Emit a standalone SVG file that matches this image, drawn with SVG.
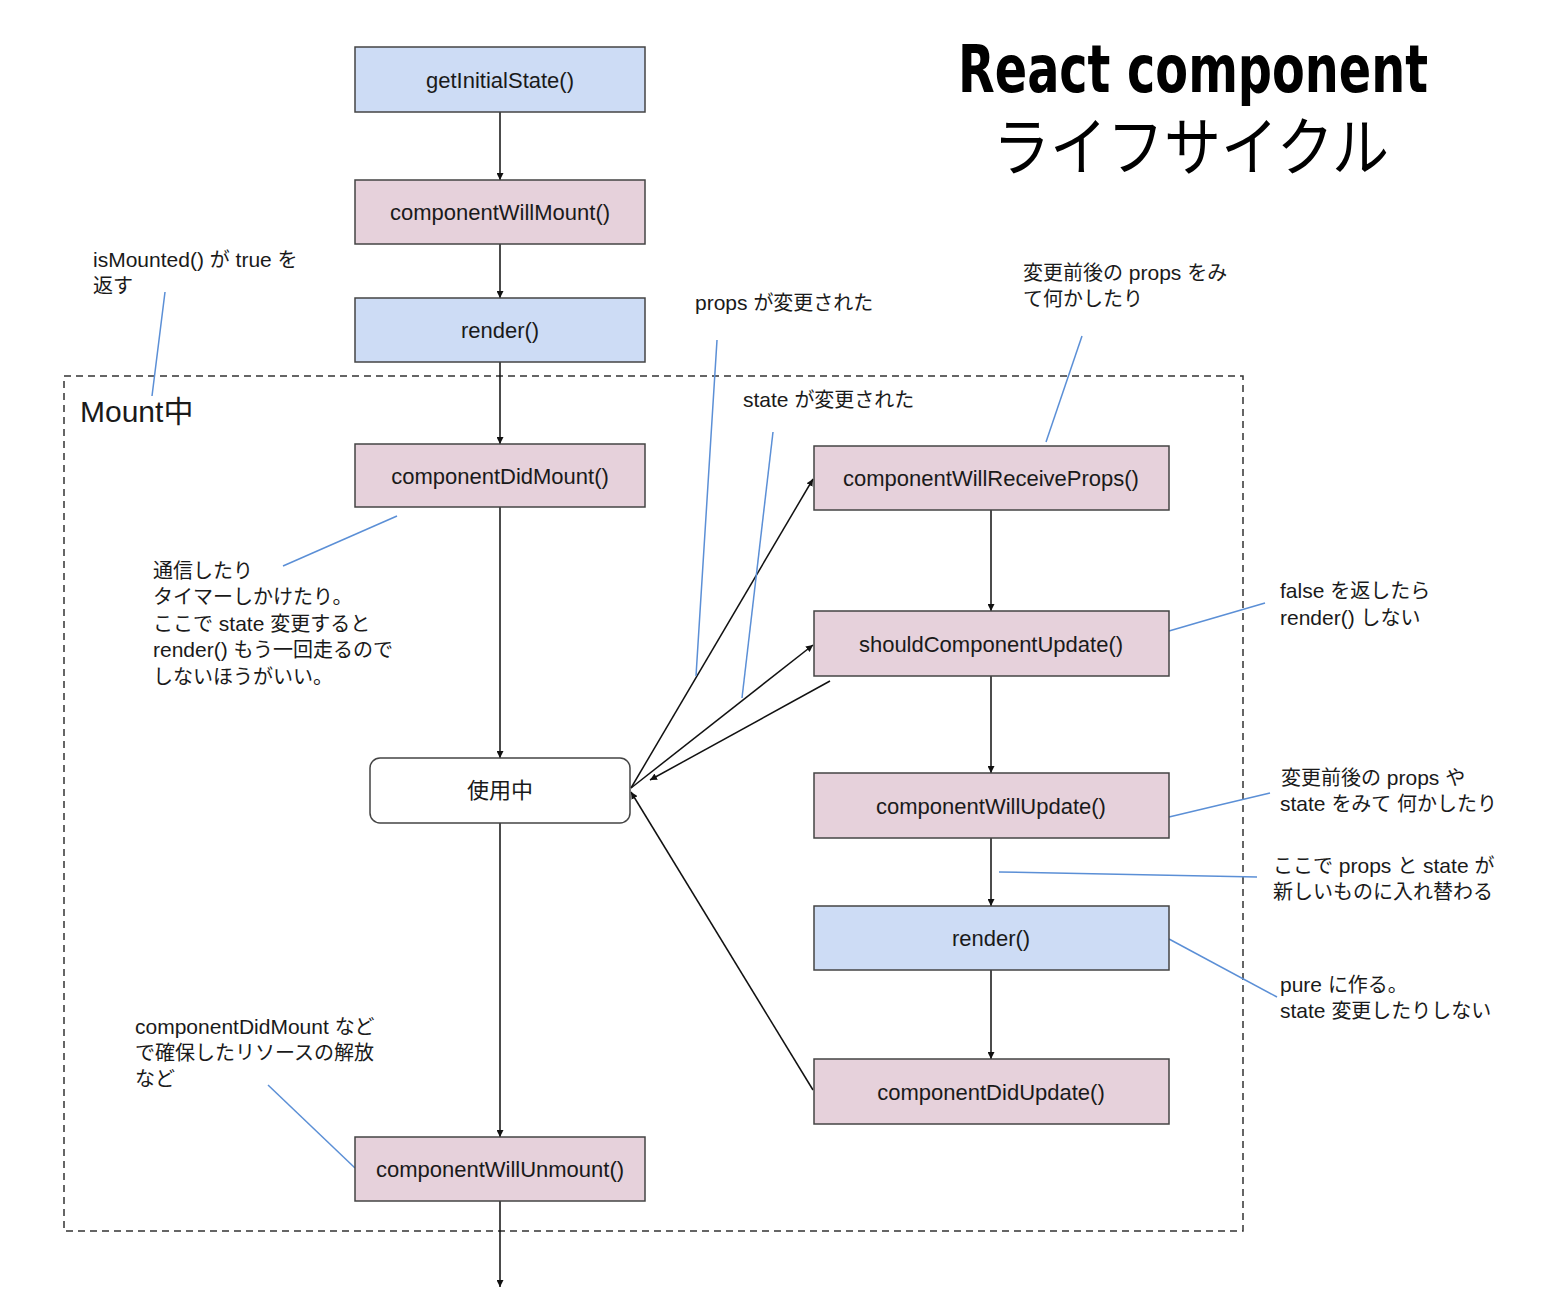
<svg xmlns="http://www.w3.org/2000/svg" width="1550" height="1312" viewBox="0 0 1550 1312">
<defs>
<style>
text{font-family:"Liberation Sans","Noto Sans CJK JP",sans-serif;fill:#1a1a1a}
.lbl{font-size:22px;text-anchor:middle}
.note{font-size:20px}
.l{font-size:21px}
.blue{fill:#cddcf5;stroke:#444;stroke-width:1.5}
.pink{fill:#e6d1db;stroke:#444;stroke-width:1.5}
.c{stroke:#111;stroke-width:1.5;fill:none}
.b{stroke:#5b8fd6;stroke-width:1.5;fill:none}
</style>
<marker id="ah" viewBox="0 0 10 10" refX="10" refY="5" markerWidth="7" markerHeight="7" orient="auto" markerUnits="userSpaceOnUse">
<path d="M0,0 L10,5 L0,10 z" fill="#111"/>
</marker>
</defs>
<rect width="1550" height="1312" fill="#fff"/>
<rect id="mount-area" x="64" y="376" width="1179" height="855" fill="none" stroke="#333" stroke-width="1.5" stroke-dasharray="7,5"/>
<text x="80" y="422" style="font-size:30px">Mount中</text>
<g id="title">
<text x="958" y="92" textLength="470" lengthAdjust="spacingAndGlyphs" style="font-family:'DejaVu Sans Condensed','DejaVu Sans',sans-serif;font-weight:bold;font-size:66px;fill:#000">React component</text>
<text x="993" y="170" textLength="396" lengthAdjust="spacingAndGlyphs" style="font-size:64px;fill:#000">ライフサイクル</text>
</g>
<g id="connectors">
<line class="c" x1="500" y1="112" x2="500" y2="180" marker-end="url(#ah)"/>
<line class="c" x1="500" y1="244" x2="500" y2="298" marker-end="url(#ah)"/>
<line class="c" x1="500" y1="362" x2="500" y2="444" marker-end="url(#ah)"/>
<line class="c" x1="500" y1="507" x2="500" y2="758" marker-end="url(#ah)"/>
<line class="c" x1="500" y1="823" x2="500" y2="1137" marker-end="url(#ah)"/>
<line class="c" x1="500" y1="1201" x2="500" y2="1287" marker-end="url(#ah)"/>
<line class="c" x1="991" y1="510" x2="991" y2="611" marker-end="url(#ah)"/>
<line class="c" x1="991" y1="676" x2="991" y2="773" marker-end="url(#ah)"/>
<line class="c" x1="991" y1="838" x2="991" y2="906" marker-end="url(#ah)"/>
<line class="c" x1="991" y1="970" x2="991" y2="1059" marker-end="url(#ah)"/>
<line class="c" x1="631" y1="788" x2="813" y2="479" marker-end="url(#ah)"/>
<line class="c" x1="631" y1="788" x2="813" y2="645" marker-end="url(#ah)"/>
<line class="c" x1="830" y1="681" x2="650" y2="780" marker-end="url(#ah)"/>
<line class="c" x1="813" y1="1090" x2="631" y2="792" marker-end="url(#ah)"/>
</g>
<g id="callouts">
<line class="b" x1="165" y1="292" x2="152" y2="396"/>
<line class="b" x1="397" y1="516" x2="283" y2="566"/>
<line class="b" x1="717" y1="340" x2="696" y2="676"/>
<line class="b" x1="773" y1="432" x2="742" y2="698"/>
<line class="b" x1="1082" y1="336" x2="1046" y2="442"/>
<line class="b" x1="1169" y1="631" x2="1265" y2="603"/>
<line class="b" x1="1169" y1="817" x2="1270" y2="793"/>
<line class="b" x1="999" y1="872" x2="1257" y2="877"/>
<line class="b" x1="1169" y1="939" x2="1277" y2="997"/>
<line class="b" x1="268" y1="1085" x2="355" y2="1168"/>
</g>
<g id="n-getInitialState"><rect class="blue" x="355" y="47" width="290" height="65"/><text class="lbl" x="500" y="88">getInitialState()</text></g>
<g id="n-componentWillMount"><rect class="pink" x="355" y="180" width="290" height="64"/><text class="lbl" x="500" y="220">componentWillMount()</text></g>
<g id="n-render1"><rect class="blue" x="355" y="298" width="290" height="64"/><text class="lbl" x="500" y="338">render()</text></g>
<g id="n-componentDidMount"><rect class="pink" x="355" y="444" width="290" height="63"/><text class="lbl" x="500" y="484">componentDidMount()</text></g>
<g id="n-inuse"><rect x="370" y="758" width="260" height="65" rx="10" fill="#fff" stroke="#444" stroke-width="1.5"/><text class="lbl" x="500" y="798">使用中</text></g>
<g id="n-componentWillUnmount"><rect class="pink" x="355" y="1137" width="290" height="64"/><text class="lbl" x="500" y="1177">componentWillUnmount()</text></g>
<g id="n-componentWillReceiveProps"><rect class="pink" x="814" y="446" width="355" height="64"/><text class="lbl" x="991" y="486">componentWillReceiveProps()</text></g>
<g id="n-shouldComponentUpdate"><rect class="pink" x="814" y="611" width="355" height="65"/><text class="lbl" x="991" y="652">shouldComponentUpdate()</text></g>
<g id="n-componentWillUpdate"><rect class="pink" x="814" y="773" width="355" height="65"/><text class="lbl" x="991" y="814">componentWillUpdate()</text></g>
<g id="n-render2"><rect class="blue" x="814" y="906" width="355" height="64"/><text class="lbl" x="991" y="946">render()</text></g>
<g id="n-componentDidUpdate"><rect class="pink" x="814" y="1059" width="355" height="65"/><text class="lbl" x="991" y="1100">componentDidUpdate()</text></g>
<g id="notes">
<text class="note" x="93" y="267"><tspan class="l">isMounted() </tspan>が<tspan class="l"> true </tspan>を</text>
<text class="note" x="93" y="293">返す</text>
<text class="note" x="695" y="310"><tspan class="l">props </tspan>が変更された</text>
<text class="note" x="1023" y="280">変更前後の<tspan class="l"> props </tspan>をみ</text>
<text class="note" x="1023" y="306">て何かしたり</text>
<text class="note" x="743" y="407"><tspan class="l">state </tspan>が変更された</text>
<text class="note" x="153" y="578">通信したり</text>
<text class="note" x="153" y="604">タイマーしかけたり。</text>
<text class="note" x="153" y="631">ここで<tspan class="l"> state </tspan>変更すると</text>
<text class="note" x="153" y="657"><tspan class="l">render() </tspan>もう一回走るので</text>
<text class="note" x="153" y="684">しないほうがいい。</text>
<text class="note" x="1280" y="598"><tspan class="l">false </tspan>を返したら</text>
<text class="note" x="1280" y="625"><tspan class="l">render() </tspan>しない</text>
<text class="note" x="1281" y="785">変更前後の<tspan class="l"> props </tspan>や</text>
<text class="note" x="1280" y="811"><tspan class="l">state </tspan>をみて 何かしたり</text>
<text class="note" x="1273" y="873">ここで<tspan class="l"> props </tspan>と<tspan class="l"> state </tspan>が</text>
<text class="note" x="1273" y="899">新しいものに入れ替わる</text>
<text class="note" x="1280" y="992"><tspan class="l">pure </tspan>に作る。</text>
<text class="note" x="1280" y="1018"><tspan class="l">state </tspan>変更したりしない</text>
<text class="note" x="135" y="1034"><tspan class="l">componentDidMount </tspan>など</text>
<text class="note" x="135" y="1060">で確保したリソースの解放</text>
<text class="note" x="135" y="1086">など</text>
</g>
</svg>
